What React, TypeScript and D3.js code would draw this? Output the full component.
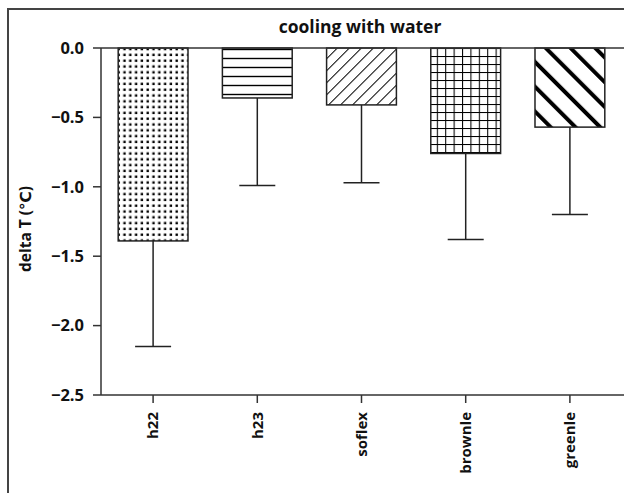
import React from 'react';
import * as d3 from 'd3';

// data
const categories = ['h22', 'h23', 'soflex', 'brownle', 'greenle'];
const means = [-1.39, -0.36, -0.41, -0.76, -0.57];
const errors = [0.76, 0.63, 0.56, 0.62, 0.63];
const yTicks = [0, -0.5, -1.0, -1.5, -2.0, -2.5];
const patterns = ['dots', 'hlines', 'fwd', 'grid', 'back'];

const W = 624;
const H = 493;
const FONT = '"Open Sans", "DejaVu Sans", sans-serif';
const INK = '#222';

export default function App() {
  const x = d3.scaleBand<string>()
    .domain(categories)
    .range([101, 622])
    .paddingInner(0.33)
    .paddingOuter(0.165);

  const y = d3.scaleLinear().domain([-2.5, 0]).range([395, 48]);

  const bw = x.bandwidth();
  const capHalf = 18;

  return (
    <svg width={W} height={H} style={{ position: 'absolute', left: 0, top: 0, background: '#fff' }}>
      <defs>
        <pattern id="dots" width={5.8} height={5.8} patternUnits="userSpaceOnUse">
          <rect x={1.5} y={1.5} width={2.4} height={2.4} fill="#000" />
        </pattern>
        <pattern id="hlines" width={10} height={9} patternUnits="userSpaceOnUse">
          <line x1={0} x2={10} y1={4.5} y2={4.5} stroke="#000" strokeWidth={1.4} />
        </pattern>
        <pattern id="fwd" width={8.5} height={8.5} patternUnits="userSpaceOnUse" patternTransform="rotate(45)">
          <line x1={0} x2={0} y1={0} y2={8.5} stroke="#000" strokeWidth={2} />
        </pattern>
        <pattern id="grid" width={8.4} height={8} patternUnits="userSpaceOnUse">
          <line x1={0.5} x2={0.5} y1={0} y2={8} stroke="#000" strokeWidth={1.1} />
          <line x1={0} x2={8.4} y1={0.5} y2={0.5} stroke="#000" strokeWidth={1.1} />
        </pattern>
        <pattern id="back" width={17.5} height={17.5} patternUnits="userSpaceOnUse" patternTransform="rotate(-45)">
          <line x1={0} x2={0} y1={0} y2={17.5} stroke="#000" strokeWidth={8} />
        </pattern>
      </defs>

      {/* frame */}
      <path d={`M8,${H} V9 H${W}`} fill="none" stroke="#444" strokeWidth={2} />

      <text x={360} y={33} textAnchor="middle" fontFamily={FONT} fontWeight={700} fontSize={17.5} fill="#111">
        cooling with water
      </text>

      {/* bars */}
      {categories.map((c, i) => {
        const x0 = x(c)!;
        const top = y(0);
        const bot = y(means[i]);
        const cx = x0 + bw / 2;
        const errY = y(means[i] - errors[i]);
        return (
          <g key={c}>
            <line x1={cx} x2={cx} y1={bot} y2={errY} stroke={INK} strokeWidth={1.5} />
            <line x1={cx - capHalf} x2={cx + capHalf} y1={errY} y2={errY} stroke={INK} strokeWidth={1.5} />
            <rect x={x0} y={top} width={bw} height={bot - top} fill="#fff" />
            <rect x={x0} y={top} width={bw} height={bot - top} fill={`url(#${patterns[i]})`} stroke={INK} strokeWidth={1.5} />
          </g>
        );
      })}

      {/* y axis */}
      <line x1={101} x2={101} y1={y(0)} y2={y(-2.5)} stroke="#333" strokeWidth={1.5} />
      {yTicks.map(t => (
        <g key={t}>
          <line x1={93} x2={101} y1={y(t)} y2={y(t)} stroke="#333" strokeWidth={1.5} />
          <text x={84} y={y(t)} dy="0.35em" textAnchor="end" fontFamily={FONT} fontWeight={700} fontSize={16.5} fill="#111">
            {t === 0 ? '0.0' : '\u2212' + Math.abs(t).toFixed(1)}
          </text>
        </g>
      ))}
      <text
        transform={`translate(31,229) rotate(-90)`}
        textAnchor="middle"
        fontFamily={FONT}
        fontWeight={700}
        fontSize={15.5}
        fill="#111"
      >
        delta T (℃)
      </text>

      {/* zero line and bottom axis */}
      <line x1={101} x2={W} y1={y(0)} y2={y(0)} stroke="#333" strokeWidth={1.5} />
      <line x1={101} x2={W} y1={y(-2.5)} y2={y(-2.5)} stroke="#333" strokeWidth={1.5} />
      {categories.map(c => {
        const cx = x(c)! + bw / 2;
        return (
          <g key={c}>
            <line x1={cx} x2={cx} y1={y(-2.5)} y2={y(-2.5) + 8} stroke="#333" strokeWidth={1.5} />
            <text
              transform={`translate(${cx},412) rotate(-90)`}
              dy="0.35em"
              textAnchor="end"
              fontFamily={FONT}
              fontWeight={700}
              fontSize={15}
              fill="#111"
            >
              {c}
            </text>
          </g>
        );
      })}
    </svg>
  );
}
